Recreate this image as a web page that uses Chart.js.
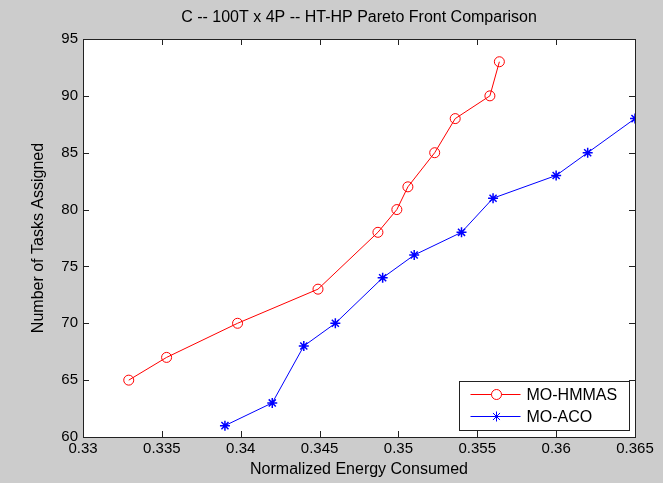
<!DOCTYPE html>
<html>
<head>
<meta charset="utf-8">
<script src="https://cdn.jsdelivr.net/npm/chart.js@4"></script>
<style>
  body { margin: 0; background: #cccccc; }
  #wrap { width: 663px; height: 483px; }
</style>
</head>
<body>
<div id="wrap"><canvas id="pareto" width="663" height="483"></canvas></div>
<script>
// data
const hmmasEnergy = [0.3329, 0.3353, 0.3398, 0.3449, 0.3487, 0.3499, 0.3506, 0.3523, 0.3536, 0.3558, 0.3564];
const hmmasTasks  = [65, 67, 70, 73, 78, 80, 82, 85, 88, 90, 93];
const acoEnergy   = [0.3390, 0.3420, 0.3440, 0.3460, 0.3490, 0.3510, 0.3540, 0.3560, 0.3600, 0.3620, 0.3650];
const acoTasks    = [61, 63, 68, 70, 74, 76, 78, 81, 83, 85, 88];
const seriesNames = ['MO-HMMAS', 'MO-ACO'];
const chartTitle = 'C -- 100T x 4P -- HT-HP Pareto Front Comparison';

const font = "'Liberation Sans', Arial, sans-serif";

// matlab style frame: white axes, box on all sides, ticks pointing in
const matlabFrame = {
  id: 'matlabFrame',
  beforeDraw(chart) {
    const { ctx, chartArea: a } = chart;
    ctx.save();
    ctx.fillStyle = '#cccccc';
    ctx.fillRect(0, 0, chart.width, chart.height);
    ctx.fillStyle = '#ffffff';
    ctx.fillRect(a.left, a.top, a.right - a.left, a.bottom - a.top);
    // title centred over the axes
    ctx.fillStyle = '#000000';
    ctx.font = '16px ' + font;
    ctx.textAlign = 'center';
    ctx.textBaseline = 'middle';
    ctx.fillText(chartTitle, (a.left + a.right) / 2, 18);
    ctx.restore();
  },
  afterDatasetsDraw(chart) {
    const { ctx, chartArea: a, scales } = chart;
    const len = 6;
    ctx.save();
    ctx.strokeStyle = '#222222';
    ctx.lineWidth = 1;
    ctx.beginPath();
    scales.x.ticks.forEach(t => {
      const px = Math.round(scales.x.getPixelForValue(t.value)) + 0.5;
      ctx.moveTo(px, a.bottom); ctx.lineTo(px, a.bottom - len);
      ctx.moveTo(px, a.top); ctx.lineTo(px, a.top + len);
    });
    scales.y.ticks.forEach(t => {
      const py = Math.round(scales.y.getPixelForValue(t.value)) + 0.5;
      ctx.moveTo(a.left, py); ctx.lineTo(a.left + len, py);
      ctx.moveTo(a.right, py); ctx.lineTo(a.right - len, py);
    });
    ctx.stroke();
    ctx.strokeRect(Math.round(a.left) + 0.5, Math.round(a.top) + 0.5,
      Math.round(a.right - a.left), Math.round(a.bottom - a.top));
    ctx.restore();
  },
  afterDraw(chart) {
    // legend box in the lower right corner of the axes
    const { ctx, chartArea: a } = chart;
    const w = 170, h = 49;
    const x0 = Math.round(a.right - 6 - w) + 0.5;
    const y0 = Math.round(a.bottom - 7 - h) + 0.5;
    ctx.save();
    ctx.fillStyle = '#ffffff';
    ctx.fillRect(x0, y0, w, h);
    ctx.strokeStyle = '#222222';
    ctx.lineWidth = 1;
    ctx.strokeRect(x0, y0, w, h);
    chart.data.datasets.forEach((ds, i) => {
      const y = y0 + 13 + i * 22;
      ctx.strokeStyle = ds.borderColor;
      ctx.lineWidth = 1;
      ctx.beginPath();
      ctx.moveTo(x0 + 11, y);
      ctx.lineTo(x0 + 61, y);
      ctx.stroke();
      Chart.helpers.drawPoint(ctx, {
        pointStyle: ds.pointStyle,
        radius: ds.pointRadius,
        borderWidth: ds.pointBorderWidth
      }, x0 + 37, y);
      ctx.fillStyle = '#000000';
      ctx.font = '16px ' + font;
      ctx.textBaseline = 'middle';
      ctx.fillText(ds.label, x0 + 67, y + 1);
    });
    ctx.restore();
  }
};

const ctx = document.getElementById('pareto').getContext('2d');
new Chart(ctx, {
  type: 'line',
  data: {
    datasets: [{
      label: seriesNames[0],
      data: hmmasEnergy.map((x, i) => ({ x, y: hmmasTasks[i] })),
      borderColor: '#ff0000',
      backgroundColor: 'rgba(0,0,0,0)',
      pointStyle: 'circle',
      pointRadius: 5,
      pointBorderWidth: 1,
      pointBorderColor: '#ff0000',
      pointBackgroundColor: 'rgba(0,0,0,0)',
      borderWidth: 1,
      tension: 0
    }, {
      label: seriesNames[1],
      data: acoEnergy.map((x, i) => ({ x, y: acoTasks[i] })),
      borderColor: '#0000ff',
      backgroundColor: 'rgba(0,0,0,0)',
      pointStyle: 'star',
      pointRadius: 5,
      pointBorderWidth: 1.5,
      pointBorderColor: '#0000ff',
      pointBackgroundColor: '#0000ff',
      borderWidth: 1,
      tension: 0
    }]
  },
  options: {
    responsive: false,
    animation: false,
    layout: { padding: { left: 0, right: 28, top: 39, bottom: 0 } },
    plugins: {
      legend: { display: false },
      tooltip: { enabled: false },
      title: { display: false }
    },
    scales: {
      x: {
        type: 'linear',
        min: 0.33,
        max: 0.365,
        grid: { display: false, drawTicks: false },
        border: { display: false },
        ticks: {
          stepSize: 0.005,
          color: '#000000',
          font: { family: font, size: 15 },
          padding: 3,
          maxRotation: 0,
          callback: v => String(parseFloat(v.toFixed(3)))
        },
        title: {
          display: true,
          text: 'Normalized Energy Consumed',
          color: '#000000',
          font: { family: font, size: 16 },
          padding: { top: 0, bottom: 4 }
        },
        afterFit(scale) { scale.height = 46; }
      },
      y: {
        min: 60,
        max: 95,
        grid: { display: false, drawTicks: false },
        border: { display: false },
        ticks: {
          stepSize: 5,
          color: '#000000',
          font: { family: font, size: 15 },
          padding: 5
        },
        title: {
          display: true,
          text: 'Number of Tasks Assigned',
          color: '#000000',
          font: { family: font, size: 16 },
          padding: { top: 29, bottom: 0 }
        },
        afterFit(scale) { scale.width = 83; }
      }
    }
  },
  plugins: [matlabFrame]
});
</script>
</body>
</html>
